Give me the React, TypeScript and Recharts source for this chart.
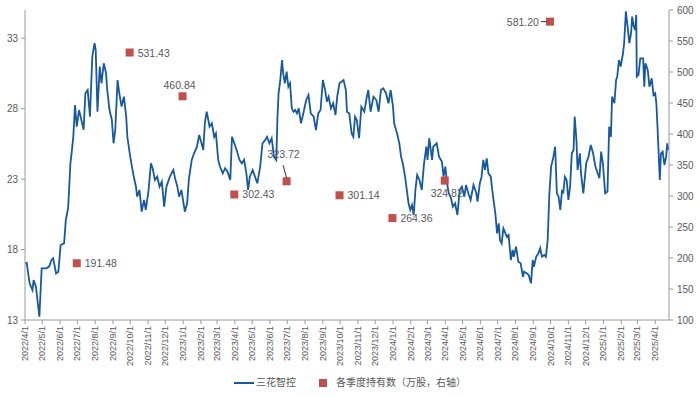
import {
  ComposedChart,
  Line,
  Scatter,
  XAxis,
  YAxis,
  Legend,
} from "recharts";

// 三花智控 收盘价（左轴，元）
const PRICE_2022: [string, number][] = [
  ["2022-04-01", 17.02], ["2022-04-04", 17.05], ["2022-04-09", 15.6], ["2022-04-14", 15.13],
  ["2022-04-16", 15.84], ["2022-04-20", 15.37], ["2022-04-26", 13.23], ["2022-04-30", 16.67],
  ["2022-05-08", 16.67], ["2022-05-13", 16.79], ["2022-05-17", 17.26], ["2022-05-20", 17.38],
  ["2022-05-25", 16.31], ["2022-05-29", 16.43], ["2022-06-02", 18.32], ["2022-06-08", 18.44],
  ["2022-06-11", 20.1], ["2022-06-15", 20.93], ["2022-06-19", 24.12], ["2022-06-21", 24.83],
  ["2022-06-24", 26.0], ["2022-06-27", 28.26], ["2022-06-30", 26.72], ["2022-07-04", 27.9],
  ["2022-07-08", 27.2], ["2022-07-12", 26.5], ["2022-07-15", 29.09], ["2022-07-19", 29.32],
  ["2022-07-23", 27.43], ["2022-07-27", 31.69], ["2022-07-31", 32.64], ["2022-08-02", 32.16],
  ["2022-08-05", 27.78], ["2022-08-09", 30.98], ["2022-08-12", 29.8], ["2022-08-16", 31.22],
  ["2022-08-20", 30.5], ["2022-08-22", 29.32], ["2022-08-26", 27.9], ["2022-08-30", 27.2],
  ["2022-09-02", 25.54], ["2022-09-05", 26.5], ["2022-09-09", 30.03], ["2022-09-12", 29.09],
  ["2022-09-16", 28.14], ["2022-09-20", 28.85], ["2022-09-24", 27.43], ["2022-09-26", 26.0],
  ["2022-10-01", 24.59], ["2022-10-06", 23.41], ["2022-10-11", 22.46], ["2022-10-13", 21.75],
  ["2022-10-17", 22.23], ["2022-10-21", 20.69], ["2022-10-25", 21.52], ["2022-10-28", 20.81],
  ["2022-11-02", 22.23], ["2022-11-06", 24.12], ["2022-11-09", 23.77], ["2022-11-13", 22.94],
  ["2022-11-17", 23.17], ["2022-11-21", 22.46], ["2022-11-25", 22.82], ["2022-11-29", 21.04],
  ["2022-12-03", 22.46], ["2022-12-09", 23.17], ["2022-12-15", 23.65], ["2022-12-18", 23.05],
  ["2022-12-22", 22.46], ["2022-12-25", 21.75], ["2022-12-29", 22.23],
];

const PRICE_2023: [string, number][] = [
  ["2023-01-04", 20.69], ["2023-01-08", 21.28], ["2023-01-11", 23.0], ["2023-01-16", 24.36],
  ["2023-01-20", 24.83], ["2023-01-25", 25.3], ["2023-01-29", 26.13], ["2023-02-02", 25.54],
  ["2023-02-05", 25.07], ["2023-02-08", 27.07], ["2023-02-11", 27.78], ["2023-02-16", 26.72],
  ["2023-02-20", 26.96], ["2023-02-24", 26.0], ["2023-02-27", 26.25], ["2023-03-03", 24.36],
  ["2023-03-06", 23.89], ["2023-03-11", 23.41], ["2023-03-15", 23.77], ["2023-03-19", 23.54],
  ["2023-03-24", 22.94], ["2023-03-27", 26.0], ["2023-03-31", 25.54], ["2023-04-04", 25.07],
  ["2023-04-09", 24.36], ["2023-04-13", 24.12], ["2023-04-17", 24.36], ["2023-04-21", 23.41],
  ["2023-04-24", 22.23], ["2023-04-27", 23.17], ["2023-05-02", 23.65], ["2023-05-06", 23.17],
  ["2023-05-10", 22.7], ["2023-05-15", 23.89], ["2023-05-19", 25.54], ["2023-05-24", 25.78],
  ["2023-05-27", 26.0], ["2023-05-31", 25.54], ["2023-06-04", 25.9], ["2023-06-08", 24.59],
  ["2023-06-12", 24.36], ["2023-06-14", 27.31], ["2023-06-16", 29.09], ["2023-06-19", 30.03],
  ["2023-06-22", 31.45], ["2023-06-24", 30.5], ["2023-06-27", 29.8], ["2023-06-30", 30.62],
  ["2023-07-03", 29.56], ["2023-07-06", 29.8], ["2023-07-09", 28.02], ["2023-07-12", 27.78],
  ["2023-07-15", 27.9], ["2023-07-18", 27.66], ["2023-07-21", 28.02], ["2023-07-25", 26.96],
  ["2023-07-29", 27.66], ["2023-08-03", 28.61], ["2023-08-07", 28.97], ["2023-08-11", 27.66],
  ["2023-08-16", 27.43], ["2023-08-20", 26.48], ["2023-08-24", 27.66], ["2023-08-28", 27.9],
  ["2023-09-01", 30.03], ["2023-09-05", 29.32], ["2023-09-08", 28.5], ["2023-09-11", 28.85],
  ["2023-09-15", 28.02], ["2023-09-19", 28.38], ["2023-09-23", 27.55], ["2023-09-26", 28.85],
  ["2023-09-30", 29.8], ["2023-10-07", 30.03], ["2023-10-11", 29.32], ["2023-10-13", 27.78],
  ["2023-10-17", 27.66], ["2023-10-21", 26.25], ["2023-10-24", 26.0], ["2023-10-27", 27.43],
  ["2023-10-30", 27.2], ["2023-11-03", 25.9], ["2023-11-07", 28.14], ["2023-11-12", 27.78],
  ["2023-11-16", 28.73], ["2023-11-19", 29.32], ["2023-11-23", 27.78], ["2023-11-28", 28.85],
  ["2023-12-03", 28.61], ["2023-12-07", 27.78], ["2023-12-11", 29.32], ["2023-12-15", 29.44],
  ["2023-12-20", 29.09], ["2023-12-24", 28.38], ["2023-12-28", 29.32],
];

const PRICE_2024: [string, number][] = [
  ["2024-01-01", 28.14], ["2024-01-03", 26.96], ["2024-01-08", 26.25], ["2024-01-12", 25.54],
  ["2024-01-15", 24.59], ["2024-01-18", 24.12], ["2024-01-22", 23.17], ["2024-01-25", 22.23],
  ["2024-01-28", 21.28], ["2024-01-31", 20.81], ["2024-02-03", 21.16], ["2024-02-06", 20.45],
  ["2024-02-09", 22.23], ["2024-02-12", 23.29], ["2024-02-16", 22.94], ["2024-02-20", 22.23],
  ["2024-02-24", 24.12], ["2024-02-28", 25.3], ["2024-03-01", 24.36], ["2024-03-04", 25.9],
  ["2024-03-09", 24.36], ["2024-03-11", 25.3], ["2024-03-17", 25.54], ["2024-03-21", 24.59],
  ["2024-03-26", 24.24], ["2024-03-29", 23.17], ["2024-04-01", 23.89], ["2024-04-04", 22.7],
  ["2024-04-07", 21.99], ["2024-04-11", 21.63], ["2024-04-14", 21.04], ["2024-04-18", 21.28],
  ["2024-04-22", 20.45], ["2024-04-26", 22.23], ["2024-04-30", 22.46], ["2024-05-04", 21.75],
  ["2024-05-07", 22.58], ["2024-05-11", 21.99], ["2024-05-15", 21.52], ["2024-05-20", 22.58],
  ["2024-05-25", 21.99], ["2024-05-27", 21.4], ["2024-05-31", 22.7], ["2024-06-03", 23.17],
  ["2024-06-06", 24.36], ["2024-06-09", 23.65], ["2024-06-12", 24.47], ["2024-06-15", 23.41],
  ["2024-06-19", 23.17], ["2024-06-23", 21.75], ["2024-06-27", 20.57], ["2024-06-30", 19.15],
  ["2024-07-03", 19.86], ["2024-07-05", 18.68], ["2024-07-08", 18.44], ["2024-07-11", 19.5],
  ["2024-07-17", 18.91], ["2024-07-20", 19.03], ["2024-07-24", 17.26], ["2024-07-27", 17.97],
  ["2024-07-29", 17.49], ["2024-08-02", 18.2], ["2024-08-06", 17.13], ["2024-08-10", 17.02],
  ["2024-08-14", 16.07], ["2024-08-16", 16.43], ["2024-08-21", 16.31], ["2024-08-24", 16.19],
  ["2024-08-28", 15.6], ["2024-08-31", 17.26], ["2024-09-02", 16.78], ["2024-09-06", 17.49],
  ["2024-09-10", 17.73], ["2024-09-13", 18.09], ["2024-09-16", 17.49], ["2024-09-20", 17.61],
  ["2024-09-23", 17.49], ["2024-09-26", 18.68], ["2024-09-29", 21.99], ["2024-10-02", 23.89],
  ["2024-10-06", 24.59], ["2024-10-09", 25.3], ["2024-10-12", 21.99], ["2024-10-15", 21.75],
  ["2024-10-18", 20.81], ["2024-10-21", 22.23], ["2024-10-23", 21.99], ["2024-10-26", 23.17],
  ["2024-10-29", 22.94], ["2024-11-01", 21.52], ["2024-11-04", 22.46], ["2024-11-07", 24.83],
  ["2024-11-10", 25.07], ["2024-11-12", 27.43], ["2024-11-15", 25.78], ["2024-11-17", 23.65],
  ["2024-11-21", 24.83], ["2024-11-23", 23.41], ["2024-11-27", 21.99], ["2024-12-02", 24.12],
  ["2024-12-06", 24.59], ["2024-12-10", 25.42], ["2024-12-14", 24.83], ["2024-12-18", 23.89],
  ["2024-12-22", 23.41], ["2024-12-25", 23.06], ["2024-12-28", 24.95], ["2024-12-31", 24.12],
];

const PRICE_2025: [string, number][] = [
  ["2025-01-04", 21.99], ["2025-01-08", 22.11], ["2025-01-11", 26.72], ["2025-01-14", 26.0],
  ["2025-01-16", 28.85], ["2025-01-20", 28.38], ["2025-01-23", 30.03], ["2025-01-25", 30.27],
  ["2025-01-28", 31.45], ["2025-01-31", 30.98], ["2025-02-04", 31.93], ["2025-02-06", 32.64],
  ["2025-02-09", 34.9], ["2025-02-12", 33.82], ["2025-02-15", 32.64], ["2025-02-18", 33.35],
  ["2025-02-20", 34.53], ["2025-02-22", 33.94], ["2025-02-25", 33.58], ["2025-02-27", 34.65],
  ["2025-02-28", 30.27], ["2025-03-03", 30.39], ["2025-03-06", 31.57], ["2025-03-11", 31.57],
  ["2025-03-13", 29.56], ["2025-03-15", 31.22], ["2025-03-19", 30.74], ["2025-03-22", 29.56],
  ["2025-03-26", 30.15], ["2025-03-29", 28.97], ["2025-04-01", 29.09], ["2025-04-03", 28.38],
  ["2025-04-05", 26.72], ["2025-04-09", 22.94], ["2025-04-11", 24.83], ["2025-04-14", 24.95],
  ["2025-04-17", 24.0], ["2025-04-20", 24.59], ["2025-04-22", 25.54], ["2025-04-24", 25.07],
];

// 各季度持有数（万股，右轴）
const HOLD_DATES = [
  "2022-06-30", "2022-09-30", "2022-12-31", "2023-03-31", "2023-06-30",
  "2023-09-30", "2023-12-31", "2024-03-31", "2024-09-30",
];
const HOLD_VALUES = [191.48, 531.43, 460.84, 302.43, 323.72, 301.14, 264.36, 324.82, 581.2];
// where each value label sits relative to its marker
const HOLD_LABEL_SIDE = [
  "right", "right", "top", "right", "leaderTop", "right", "right", "bottom", "leaderLeft",
];

const LEFT_TICKS = [13, 18, 23, 28, 33];
const RIGHT_TICKS = [100, 150, 200, 250, 300, 350, 400, 450, 500, 550, 600];

const BLUE = "#17599f";
const RED = "#c0504d";
const GREY = "#595959";
const AXIS = "#9a9a9a";
const FONT = "'Liberation Sans', Arial, 'Noto Sans CJK SC', sans-serif";

const toT = (s: string) => {
  const [y, m, d] = s.split("-").map(Number);
  return Date.UTC(y, m - 1, d);
};

const T_START = toT("2022-04-01");
const T_END = toT("2025-04-25");

const MONTH_TICKS: number[] = [];
for (let i = 0; i <= 36; i++) MONTH_TICKS.push(Date.UTC(2022, 3 + i, 1));

const priceData = [...PRICE_2022, ...PRICE_2023, ...PRICE_2024, ...PRICE_2025].map(
  ([d, p]) => ({ t: toT(d), price: p })
);
const holdData = HOLD_DATES.map((d, i) => ({ t: toT(d), hold: HOLD_VALUES[i], side: HOLD_LABEL_SIDE[i] }));

function MonthTick(props: any) {
  const { x, y, payload } = props;
  const d = new Date(payload.value);
  const label = `${d.getUTCFullYear()}/${d.getUTCMonth() + 1}/${d.getUTCDate()}`;
  return (
    <g transform={`translate(${x},${y})`}>
      <text transform="rotate(-90)" textAnchor="end" x={0} dy={3} fontSize={9} fill={GREY} fontFamily={FONT}>
        {label}
      </text>
    </g>
  );
}

function HoldMarker(props: any) {
  const { cx, cy, payload } = props;
  if (cx == null || cy == null) return null;
  const txt = payload.hold.toFixed(2);
  const common = { fontSize: 10.5, fill: GREY, fontFamily: FONT };
  let label = null;
  switch (payload.side) {
    case "right":
      label = <text x={cx + 8} y={cy} dy={4} textAnchor="start" {...common}>{txt}</text>;
      break;
    case "top":
      label = <text x={cx - 3} y={cy - 11} dy={4} textAnchor="middle" {...common}>{txt}</text>;
      break;
    case "bottom":
      label = <text x={cx + 2} y={cy + 12} dy={4} textAnchor="middle" {...common}>{txt}</text>;
      break;
    case "leaderTop":
      label = (
        <g>
          <text x={cx - 3} y={cy - 27} dy={4} textAnchor="middle" {...common}>{txt}</text>
          <line x1={cx - 3.5} y1={cy - 16} x2={cx} y2={cy - 3} stroke="#333" strokeWidth={1} />
        </g>
      );
      break;
    case "leaderLeft":
      label = (
        <g>
          <text x={cx - 11} y={cy} dy={4} textAnchor="end" {...common}>{txt}</text>
          <line x1={cx - 9} y1={cy} x2={cx - 3} y2={cy} stroke="#333" strokeWidth={1} />
        </g>
      );
      break;
  }
  return (
    <g>
      <rect x={cx - 4} y={cy - 4} width={8} height={8} fill={RED} />
      {label}
    </g>
  );
}

function ChartLegend() {
  return (
    <div
      style={{
        display: "flex",
        justifyContent: "center",
        alignItems: "center",
        fontSize: 10,
        color: GREY,
        fontFamily: FONT,
        lineHeight: "14px",
      }}
    >
      <span style={{ display: "inline-block", width: 20, height: 2, background: BLUE, marginRight: 2 }} />
      <span>三花智控</span>
      <span style={{ display: "inline-block", width: 8, height: 8, background: RED, marginLeft: 23, marginRight: 9 }} />
      <span>各季度持有数（万股，右轴）</span>
    </div>
  );
}

export default function App() {
  return (
    <div style={{ position: "absolute", left: 0, top: 0, width: 700, height: 397, background: "#fff" }}>
      <ComposedChart width={700} height={397} margin={{ top: 10, right: 0, bottom: 0, left: 0 }}>
        <XAxis
          dataKey="t"
          type="number"
          scale="linear"
          domain={[T_START, T_END]}
          allowDataOverflow
          ticks={MONTH_TICKS}
          interval={0}
          tick={<MonthTick />}
          tickSize={4}
          tickMargin={2}
          tickLine={{ stroke: AXIS }}
          axisLine={{ stroke: AXIS }}
          height={77}
        />
        <YAxis
          yAxisId="left"
          domain={[13, 35]}
          allowDataOverflow
          ticks={LEFT_TICKS}
          interval={0}
          width={25}
          tickSize={4}
          tickMargin={3}
          tick={{ fontSize: 10, fill: GREY, fontFamily: FONT }}
          tickLine={{ stroke: AXIS }}
          axisLine={{ stroke: AXIS }}
        />
        <YAxis
          yAxisId="right"
          orientation="right"
          domain={[100, 600]}
          allowDataOverflow
          ticks={RIGHT_TICKS}
          interval={0}
          width={31}
          tickSize={4}
          tickMargin={4}
          tick={{ fontSize: 10, fill: GREY, fontFamily: FONT }}
          tickLine={{ stroke: AXIS }}
          axisLine={{ stroke: AXIS }}
        />
        <Line
          yAxisId="left"
          data={priceData}
          dataKey="price"
          type="linear"
          stroke={BLUE}
          strokeWidth={1.8}
          dot={false}
          activeDot={false}
          isAnimationActive={false}
        />
        <Scatter
          yAxisId="right"
          data={holdData}
          dataKey="hold"
          shape={(p: any) => <HoldMarker {...p} />}
          isAnimationActive={false}
        />
        <Legend
          layout="horizontal"
          verticalAlign="middle"
          align="center"
          wrapperStyle={{ top: 376, left: 0, width: 700 }}
          content={() => <ChartLegend />}
        />
      </ComposedChart>
    </div>
  );
}
